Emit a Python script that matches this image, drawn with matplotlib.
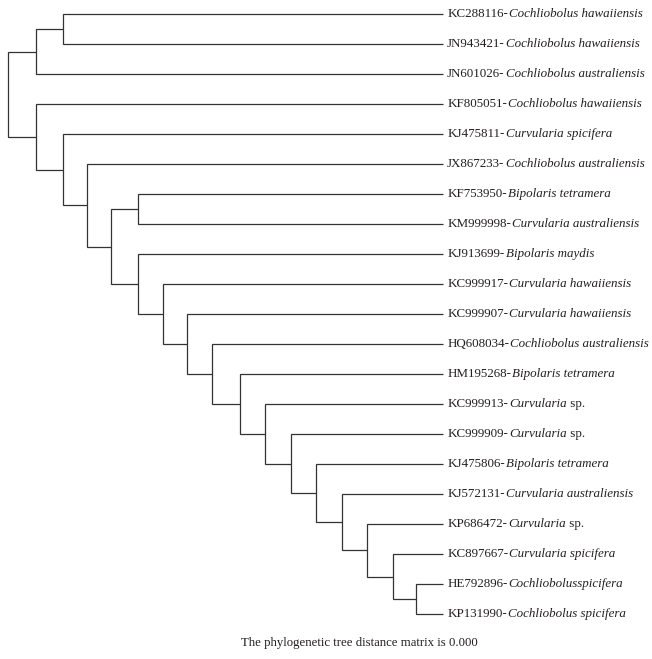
import matplotlib
matplotlib.use('Agg')
import matplotlib.pyplot as plt

# leaves, top to bottom
accessions = ['KC288116', 'JN943421', 'JN601026', 'KF805051', 'KJ475811',
              'JX867233', 'KF753950', 'KM999998', 'KJ913699', 'KC999917',
              'KC999907', 'HQ608034', 'HM195268', 'KC999913', 'KC999909',
              'KJ475806', 'KJ572131', 'KP686472', 'KC897667', 'HE792896',
              'KP131990']
taxa = ['Cochliobolus hawaiiensis', 'Cochliobolus hawaiiensis',
        'Cochliobolus australiensis', 'Cochliobolus hawaiiensis',
        'Curvularia spicifera', 'Cochliobolus australiensis',
        'Bipolaris tetramera', 'Curvularia australiensis', 'Bipolaris maydis',
        'Curvularia hawaiiensis', 'Curvularia hawaiiensis',
        'Cochliobolus australiensis', 'Bipolaris tetramera', 'Curvularia',
        'Curvularia', 'Bipolaris tetramera', 'Curvularia australiensis',
        'Curvularia', 'Curvularia spicifera', 'Cochliobolusspicifera',
        'Cochliobolus spicifera']
suffixes = ['', '', '', '', '', '', '', '', '', '', '', '', '', ' sp.', ' sp.',
            '', '', ' sp.', '', '', '']

# merges: (child a, child b, node height), new node ids start at len(accessions)
merges = [(19, 20, 0.062), (18, 21, 0.114), (17, 22, 0.174), (16, 23, 0.232),
          (15, 24, 0.293), (14, 25, 0.350), (13, 26, 0.409), (12, 27, 0.468),
          (11, 28, 0.531), (10, 29, 0.589), (9, 30, 0.643), (8, 31, 0.701),
          (6, 7, 0.701), (33, 32, 0.764), (5, 34, 0.820), (4, 35, 0.875),
          (3, 36, 0.936), (0, 1, 0.875), (38, 2, 0.936), (39, 37, 1.0)]

caption = 'The phylogenetic tree distance matrix is 0.000'

plt.rcParams['font.family'] = 'Liberation Serif'
line_color = '#333333'
text_color = '#231f20'
fs = 9.4

fig = plt.figure(figsize=(6.52, 6.59), dpi=100)
ax = fig.add_axes([8.3 / 652, 1 - 614 / 659, (443 - 8.3) / 652, (614 - 14.3) / 659])
n = len(accessions)
ax.set_xlim(1.0, 0.0)
ax.set_ylim(n - 1, 0)
ax.axis('off')

ypos = {i: float(i) for i in range(n)}
xpos = {i: 0.0 for i in range(n)}
for k, (a, b, h) in enumerate(merges):
    node = n + k
    ax.plot([xpos[a], h, h, xpos[b]], [ypos[a], ypos[a], ypos[b], ypos[b]],
            color=line_color, lw=0.9, solid_capstyle='butt',
            solid_joinstyle='miter', clip_on=False)
    ypos[node] = (ypos[a] + ypos[b]) / 2
    xpos[node] = h

for i in range(n):
    t1 = ax.annotate(accessions[i] + '-', xy=(0, i), xytext=(3, 0),
                     textcoords='offset points', va='center', ha='left',
                     fontsize=fs, color=text_color, annotation_clip=False)
    t2 = ax.annotate(taxa[i], xy=(1, 0), xycoords=t1, xytext=(0.8, 0),
                     textcoords='offset points', va='bottom', ha='left',
                     fontsize=fs, style='italic', color=text_color)
    if suffixes[i]:
        ax.annotate(suffixes[i], xy=(1, 0), xycoords=t2, va='bottom', ha='left',
                    fontsize=fs, color=text_color)

fig.text(359 / 652, 1 - 643 / 659, caption, ha='center', va='center',
         fontsize=9.2, color=text_color)

fig.savefig('out.png', dpi=100)
